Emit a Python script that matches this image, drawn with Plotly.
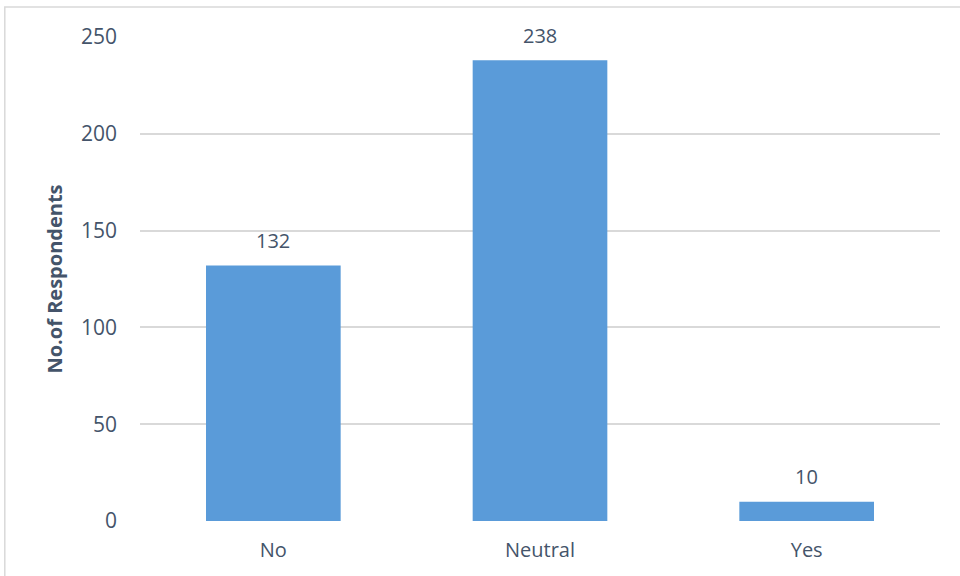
import plotly.graph_objects as go

# Survey responses
categories = ["No", "Neutral", "Yes"]
respondents = [132, 238, 10]
y_ticks = [0, 50, 100, 150, 200, 250]

TEXT = "#44546a"
GRID = "#d9d9d9"
BAR = "#5a9bd9"
FONT = "Open Sans, sans-serif"

fig = go.Figure()
fig.add_trace(go.Bar(
    x=categories,
    y=respondents,
    width=0.505,
    marker=dict(color=BAR, line=dict(width=0)),
    hoverinfo="x+y",
))

# value labels above each bar
for cat, val in zip(categories, respondents):
    fig.add_annotation(
        x=cat, y=val, text=str(val), showarrow=False,
        yshift=25, font=dict(size=20, color=TEXT, family=FONT),
    )

# light frame around the chart area
fig.add_shape(
    type="rect", xref="paper", yref="paper",
    x0=-0.169, x1=1.2, y0=-0.2, y1=1.062,
    line=dict(color=GRID, width=1.5), fillcolor="rgba(0,0,0,0)", layer="below",
)

fig.update_layout(
    width=960, height=576,
    margin=dict(l=140, r=20, t=37, b=55),
    plot_bgcolor="white", paper_bgcolor="white",
    font=dict(family=FONT, color=TEXT, size=20),
    showlegend=False,
    xaxis=dict(
        showgrid=False, showline=False, zeroline=False,
        ticks="", tickfont=dict(size=20, color=TEXT),
        ticklabelstandoff=15,
    ),
    yaxis=dict(
        range=[0, 250], tickvals=y_ticks,
        showgrid=True, gridcolor=GRID, gridwidth=1.5,
        zeroline=False, showline=False, ticks="",
        tickfont=dict(size=21, color=TEXT),
        ticklabelstandoff=22,
        title=dict(text="<b>No.of Respondents</b>", font=dict(size=20, color=TEXT), standoff=12),
    ),
)

fig.write_html("out.html")
